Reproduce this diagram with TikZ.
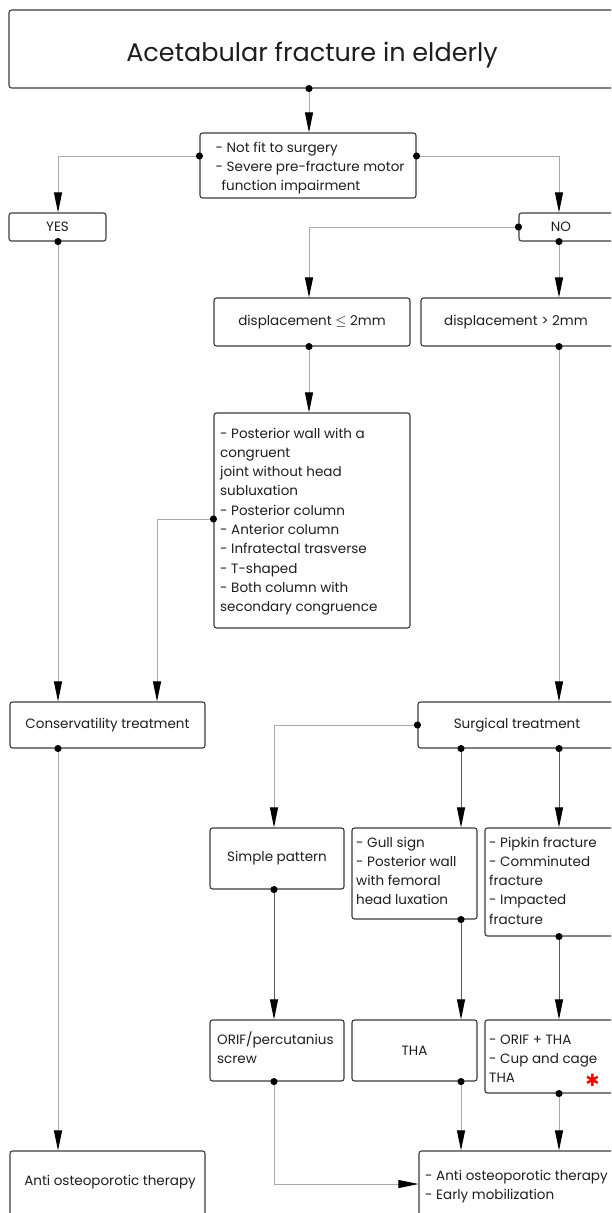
\documentclass[tikz,border=0pt]{standalone}
\usepackage{fontspec}
\setmainfont{Poppins}
\newfontfamily\djv{DejaVu Sans}
\usetikzlibrary{arrows.meta}
\definecolor{edgec}{HTML}{3C3C3C}
\definecolor{connl}{HTML}{ABABAB}
\definecolor{connd}{HTML}{5A5A5A}
\definecolor{txtc}{HTML}{1E1E1E}
\begin{document}
\begin{tikzpicture}[x=1pt,y=-1pt,
  box/.style={draw=edgec, line width=1.1pt, rounded corners=2.5pt, fill=white, inner sep=0pt, font=\fontsize{13.5}{19.3}\selectfont, text=txtc},
  txt/.style={inner sep=0pt, font=\fontsize{13.5}{19.3}\selectfont, text=txtc},
  ltxt/.style={txt, align=left, anchor=base west},
  conn/.style={draw=connl, line width=0.9pt, shorten <=-3.5pt,
     {Circle[length=7pt,width=7pt,color=black]}-{Triangle[length=20pt,width=8pt,color=black]}},
  connk/.style={conn, draw=connd}
]
\useasboundingbox (0,0) rectangle (611,1213);
\clip (0,0) rectangle (611,1213);
\fill[white] (0,0) rectangle (611,1213);

\coordinate (cL) at (58,0);
\coordinate (cC) at (157,0);
\coordinate (cS) at (274,0);
\coordinate (cM) at (309,0);
\coordinate (cG) at (461,0);
\coordinate (cR) at (559,0);

% boxes (multi-line texts are anchored at the baseline of their last line)
\node[box, minimum width=621pt, minimum height=78pt] (title) at (319.5,49) {};
\node[txt, anchor=base, font=\fontsize{25.5}{30}\selectfont] (titleT) at (312,61) {Acetabular fracture in elderly};

\node[box, minimum width=216pt, minimum height=65pt] (dec) at (308,165.5) {};
\node[ltxt] (decT) at (215.5,190.6) {- Not fit to surgery\\- Severe pre-fracture motor\\\hspace*{6pt}function impairment};

\node[box, minimum width=97pt, minimum height=28pt] (yes) at (57.5,227) {YES};
\node[box, minimum width=121pt, minimum height=28pt] (no) at (579.5,227) {};
\node[txt] (noT) at (561,227) {NO};

\node[box, minimum width=196pt, minimum height=48pt] (dle) at (312,322) {displacement $\leq$ 2mm};
\node[box, minimum width=219pt, minimum height=48pt] (dgt) at (530.5,322) {};
\node[txt] (dgtT) at (516,322) {displacement > 2mm};

\node[box, minimum width=196pt, minimum height=215pt] (big) at (312,520.5) {};
\node[ltxt] (bigT) at (220,611.7) {- Posterior wall with a\\congruent\\joint without head\\subluxation\\- Posterior column\\- Anterior column\\- Infratectal trasverse\\- T-shaped\\- Both column with\\secondary congruence};

\node[box, minimum width=195pt, minimum height=46pt] (cons) at (107.5,725) {Conservatility treatment};
\node[box, minimum width=222pt, minimum height=46pt] (surg) at (529,725) {};
\node[txt] (surgT) at (517,725) {Surgical treatment};

\node[box, minimum width=134pt, minimum height=61pt] (simple) at (277,858.5) {Simple pattern};
\node[box, minimum width=125pt, minimum height=91pt] (gull) at (414.5,873.5) {};
\node[ltxt] (gullT) at (356,904.9) {- Gull sign\\- Posterior wall\\with femoral\\head luxation};
\node[box, minimum width=155pt, minimum height=108pt] (pip) at (562.5,882) {};
\node[ltxt] (pipT) at (489,924.2) {- Pipkin fracture\\- Comminuted\\fracture\\- Impacted\\fracture};

\node[box, minimum width=134pt, minimum height=61pt] (orif) at (277,1050.5) {};
\node[ltxt] (orifT) at (217,1063.3) {ORIF/percutanius\\screw};
\node[box, minimum width=125pt, minimum height=61pt] (tha) at (414.5,1050.5) {THA};
\node[box, minimum width=155pt, minimum height=73pt] (cup) at (562.5,1056.5) {};
\node[ltxt] (cupT) at (489,1082.6) {- ORIF + THA\\- Cup and cage\\THA};
\node[inner sep=0pt, text=red, font=\djv\fontsize{17}{17}\selectfont] (ast) at (592.5,1080.5) {✱};

\node[box, minimum width=195pt, minimum height=99pt] (anti) at (107.5,1200.5) {};
\node[txt] (antiT) at (110,1182) {Anti osteoporotic therapy};
\node[box, minimum width=221pt, minimum height=99pt] (fin) at (529.5,1200.5) {};
\node[ltxt] (finT) at (425,1199.3) {- Anti osteoporotic therapy\\- Early mobilization};

% connectors
\draw[conn] (title.south -| cM) -- (dec.north -| cM);
\draw[conn] ([yshift=9.5pt]dec.west) -| (yes.north -| cL);
\draw[conn] ([yshift=9.5pt]dec.east) -| (no.north -| cR);
\draw[conn] (no.west) -| (dle.north -| cM);
\draw[conn] (no.south -| cR) -- (dgt.north -| cR);
\draw[conn] (dle.south -| cM) -- (big.north -| cM);
\draw[conn] ([yshift=1.5pt]big.west) -| (cons.north -| cC);
\draw[conn] (yes.south -| cL) -- (cons.north -| cL);
\draw[conn] (dgt.south -| cR) -- (surg.north -| cR);
\draw[conn] (surg.west) -| (simple.north -| cS);
\draw[connk] (surg.south -| cG) -- (gull.north -| cG);
\draw[connk] (surg.south -| cR) -- (pip.north -| cR);
\draw[conn] (cons.south -| cL) -- (anti.north -| cL);
\draw[connk] (simple.south -| cS) -- (orif.north -| cS);
\draw[connk] (gull.south -| cG) -- (tha.north -| cG);
\draw[connk] (pip.south -| cR) -- (cup.north -| cR);
\draw[conn] (orif.south -| cS) |- ([yshift=16.5pt]fin.west);
\draw[conn] (tha.south -| cG) -- (fin.north -| cG);
\draw[conn] (cup.south -| cR) -- (fin.north -| cR);
\end{tikzpicture}
\end{document}
